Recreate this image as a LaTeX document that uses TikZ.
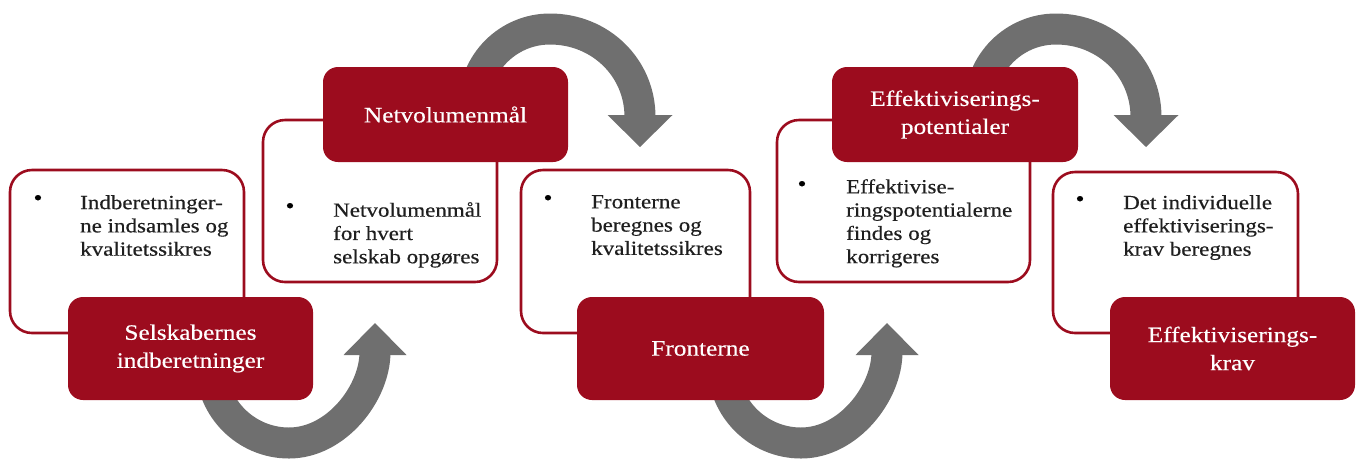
\documentclass[tikz,border=0pt]{standalone}
\usepackage{fontspec}
\setmainfont[FakeStretch=1.15, FakeBold=0.4]{Liberation Serif}
\definecolor{boxred}{RGB}{156,12,30}
\definecolor{arrowgray}{RGB}{111,111,111}
\tikzset{
  outlinebox/.style={draw=boxred, line width=2.6pt, fill=white, rounded corners=22pt, inner sep=0pt},
  titlebox/.style={fill=boxred, rounded corners=15pt, text=white, font=\fontsize{22}{28}\selectfont, align=center, inner sep=0pt},
  bodytext/.style={text=black!88, font=\fontsize{20}{23.3}\selectfont, align=left, anchor=north west, inner sep=0pt},
  bulletmark/.style={text=black, font=\fontsize{22}{22}\selectfont, inner sep=0pt},
  bigarrow/.style={draw=arrowgray, line width=31pt},
  arrowtip/.style={fill=arrowgray},
}
\begin{document}
\begin{tikzpicture}[x=1pt, y=-1pt]
\useasboundingbox (0,0) rectangle (1356,459);

% curved arrows (behind everything)
\draw[bigarrow] (211,365) .. controls (211,408) and (246,443) .. (289,443)
                .. controls (336.5,443) and (375,392.8) .. (375,352);
\fill[arrowtip] (343.5,355) -- (375,323) -- (406.5,355) -- cycle;

\draw[bigarrow] (474,105) .. controls (474,63) and (508,29) .. (550,29)
                .. controls (600,29) and (640,67.5) .. (640,117);
\fill[arrowtip] (607.5,115) -- (640,147) -- (672.5,115) -- cycle;

\begin{scope}[shift={(512,0)}]
\draw[bigarrow] (211,365) .. controls (211,408) and (246,443) .. (289,443)
                .. controls (336.5,443) and (375,392.8) .. (375,352);
\fill[arrowtip] (343.5,355) -- (375,323) -- (406.5,355) -- cycle;
\end{scope}

\begin{scope}[shift={(506,0)}]
\draw[bigarrow] (474,105) .. controls (474,63) and (508,29) .. (550,29)
                .. controls (600,29) and (640,67.5) .. (640,117);
\fill[arrowtip] (607.5,115) -- (640,147) -- (672.5,115) -- cycle;
\end{scope}

% outlined boxes
\node[outlinebox, minimum width=234pt, minimum height=163pt] (w1) at (127,251.5) {};
\node[outlinebox, minimum width=234pt, minimum height=162pt] (w2) at (380,201) {};
\node[outlinebox, minimum width=229pt, minimum height=163pt] (w3) at (635.5,251.5) {};
\node[outlinebox, minimum width=253pt, minimum height=162pt] (w4) at (903.5,201) {};
\node[outlinebox, minimum width=245pt, minimum height=161pt] (w5) at (1175.5,252.5) {};

% bullets and body texts
\node[bulletmark] (b1) at (38,200) {\textbullet};
\node[bodytext] (t1) at (80,195) {Indberetninger-\\ne indsamles og\\kvalitetssikres};
\node[bulletmark] (b2) at (290,208) {\textbullet};
\node[bodytext] (t2) at (333,202) {Netvolumenmål\\for hvert\\selskab opgøres};
\node[bulletmark] (b3) at (548,200) {\textbullet};
\node[bodytext] (t3) at (591,195) {Fronterne\\beregnes og\\kvalitetssikres};
\node[bulletmark] (b4) at (802,186) {\textbullet};
\node[bodytext] (t4) at (846,179) {Effektivise-\\ringspotentialerne\\findes og\\korrigeres};
\node[bulletmark] (b5) at (1080,201) {\textbullet};
\node[bodytext] (t5) at (1123,195) {Det individuelle\\effektiviserings-\\krav beregnes};

% red title boxes
\node[titlebox, minimum width=245pt, minimum height=103pt] (r1) at (190.5,348.5) {Selskabernes\\indberetninger};
\node[titlebox, minimum width=245pt, minimum height=95pt] (r2) at (445.5,114.5) {Netvolumenmål};
\node[titlebox, minimum width=247pt, minimum height=103pt] (r3) at (700.5,348.5) {Fronterne};
\node[titlebox, minimum width=246pt, minimum height=95pt] (r4) at (955,114.5) {Effektiviserings-\\potentialer};
\node[titlebox, minimum width=245pt, minimum height=103pt] (r5) at (1232.5,348.5) {Effektiviserings-\\krav};
\end{tikzpicture}
\end{document}
